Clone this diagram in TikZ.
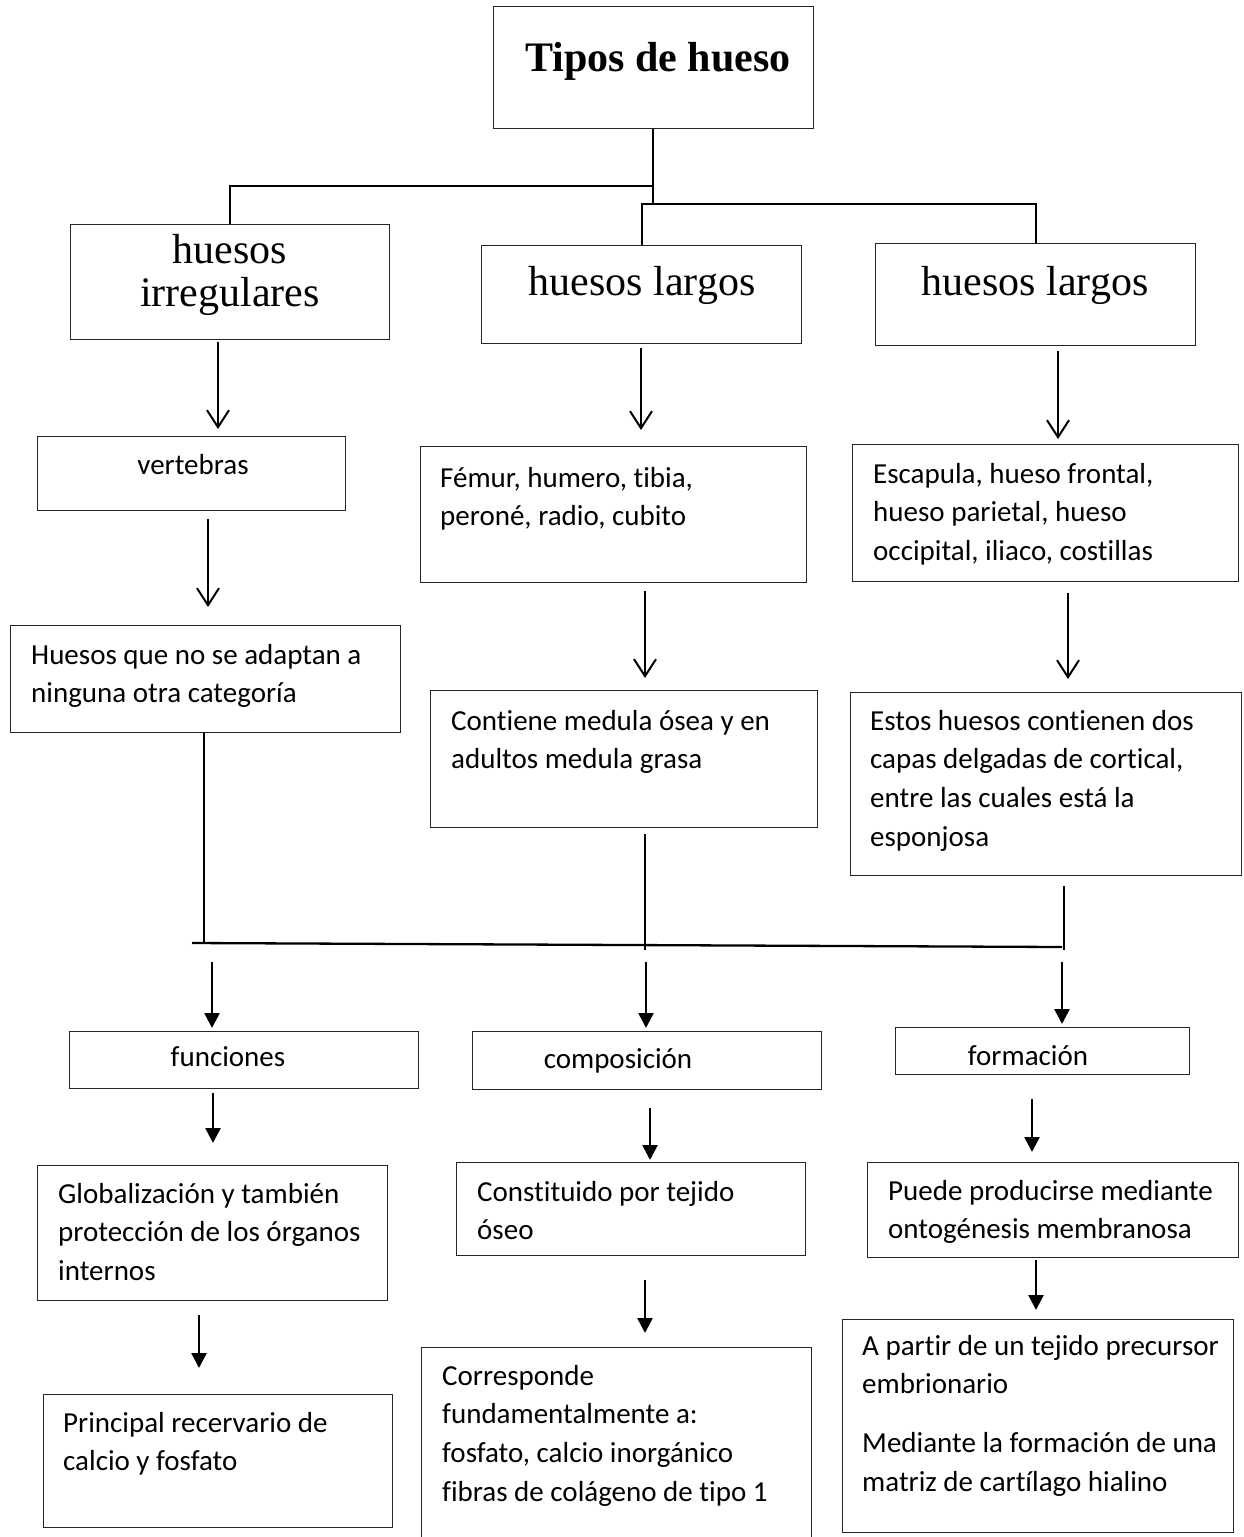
\documentclass[tikz,border=0pt]{standalone}
\usepackage{fontspec}
\setmainfont{Carlito}[Ligatures={NoCommon,NoRare,NoContextual}]
\newfontfamily\serifT{Liberation Serif}
\usetikzlibrary{arrows.meta,calc}
\newcommand\bodyf{\fontsize{29}{38.7}\selectfont}
\newcommand\headf{\serifT\fontsize{42}{41}\selectfont}
\begin{document}
\begin{tikzpicture}[x=1pt,y=-1pt,
  box/.style={draw=black!85, line width=1.3pt, anchor=north west, inner sep=0pt},
  txt/.style={anchor=north west, inner sep=0pt, align=left, font=\bodyf},
  ctxt/.style={anchor=base, inner sep=0pt, font=\bodyf},
  conn/.style={line width=2pt, black},
  openarr/.style={line width=2pt, -{Straight Barb[length=17pt,width=22pt,line width=2pt]}},
  fillarr/.style={line width=2.5pt, -{Triangle[length=15pt,width=15pt]}}
]
\useasboundingbox[fill=white] (0,0) rectangle (1243,1537);

% ---------- boxes ----------
\node[box, minimum width=320pt, minimum height=122pt] (title) at (493,6) {};
\node[box, minimum width=319pt, minimum height=115pt] (b1) at (70,224) {};
\node[box, minimum width=320pt, minimum height=98pt]  (b2) at (481,245) {};
\node[box, minimum width=320pt, minimum height=102pt] (b3) at (875,243) {};
\node[box, minimum width=308pt, minimum height=74pt]  (vert) at (37,436) {};
\node[box, minimum width=386pt, minimum height=136pt] (femur) at (420,446) {};
\node[box, minimum width=386pt, minimum height=137pt] (escap) at (852,444) {};
\node[box, minimum width=391pt, minimum height=183pt] (estos) at (850,692) {};
\node[box, minimum width=390pt, minimum height=107pt] (hque) at (10,625) {};
\node[box, minimum width=387pt, minimum height=137pt] (cont) at (430,690) {};
\node[box, minimum width=349pt, minimum height=57pt]  (func) at (69,1031) {};
\node[box, minimum width=349pt, minimum height=58pt]  (comp) at (472,1031) {};
\node[box, minimum width=294pt, minimum height=47pt]  (form) at (895,1027) {};
\node[box, minimum width=350pt, minimum height=135pt] (glob) at (37,1165) {};
\node[box, minimum width=349pt, minimum height=93pt]  (const) at (456,1162) {};
\node[box, minimum width=371pt, minimum height=95pt]  (puede) at (867,1162) {};
\node[box, minimum width=349pt, minimum height=133pt] (princ) at (43,1394) {};
\node[box, minimum width=390pt, minimum height=200pt] (corr) at (421,1347) {};
\node[box, minimum width=391pt, minimum height=213pt] (apartir) at (842,1319) {};

% ---------- texts ----------
\node[anchor=base, inner sep=0pt, font=\headf\bfseries] (ttitle) at (658,71) {Tipos de hueso};
\node[anchor=north, inner sep=0pt, align=center, font=\headf] (tb1) at (230,234.3) {\strut huesos\\irregulares};
\node[anchor=base, inner sep=0pt, font=\headf] (tb2) at (642,295) {huesos largos};
\node[anchor=base, inner sep=0pt, font=\headf] (tb3) at (1035,295) {huesos largos};
\node[ctxt] (tvert) at (193,474) {vertebras};
\node[txt] (tfemur) at (440,459.9) {\strut Fémur, humero, tibia,\\peroné, radio, cubito};
\node[txt] (tescap) at (873,455.9) {\strut Escapula, hueso frontal,\\hueso parietal, hueso\\occipital, iliaco, costillas};
\node[txt] (thque) at (31,636.9) {\strut Huesos que no se adaptan a\\ninguna otra categoría};
\node[txt] (tcont) at (451,702.9) {\strut Contiene medula ósea y en\\adultos medula grasa};
\node[txt] (testos) at (870,702.9) {\strut Estos huesos contienen dos\\capas delgadas de cortical,\\entre las cuales está la\\esponjosa};
\node[ctxt] (tfunc) at (228,1066) {funciones};
\node[ctxt] (tcomp) at (618,1068) {composición};
\node[ctxt] (tform) at (1028,1065) {formación};
\node[txt] (tglob) at (58,1175.9) {\strut Globalización y también\\protección de los órganos\\internos};
\node[txt] (tconst) at (477,1173.9) {\strut Constituido por tejido\\óseo};
\node[txt] (tpuede) at (888,1172.9) {\strut Puede producirse mediante\\ontogénesis membranosa};
\node[txt] (tprinc) at (63,1404.9) {\strut Principal recervario de\\calcio y fosfato};
\node[txt] (tcorr) at (442,1357.9) {\strut Corresponde\\fundamentalmente a:\\fosfato, calcio inorgánico\\fibras de colágeno de tipo 1};
\node[txt] (tapartir) at (862,1327.9) {\strut A partir de un tejido precursor\\embrionario\\[20pt]Mediante la formación de una\\matriz de cartílago hialino};

% ---------- top tree ----------
\coordinate (jt) at (653,204);
\coordinate (jl) at (653,186);
\draw[conn] (title.south -| jt) -- (jt);
\draw[conn] (jl) -| (b1.north);
\draw[conn] (b2.north) |- (b3.north |- jt) -- (b3.north);

% ---------- open arrows ----------
\coordinate (a1) at (218,0); \coordinate (a2) at (641,0); \coordinate (a3) at (1058,0);
\draw[openarr, shorten <=2pt, shorten >=7pt] (b1.south -| a1) -- (vert.north -| a1);
\draw[openarr, shorten <=4pt, shorten >=16pt] (b2.south -| a2) -- (femur.north -| a2);
\draw[openarr, shorten <=5pt, shorten >=5pt] (b3.south -| a3) -- (escap.north -| a3);
\coordinate (a4) at (208,0); \coordinate (a5) at (645,0); \coordinate (a6) at (1068,0);
\draw[openarr, shorten <=8pt, shorten >=18pt] (vert.south -| a4) -- (hque.north -| a4);
\draw[openarr, shorten <=8pt, shorten >=12pt] (femur.south -| a5) -- (cont.north -| a5);
\draw[openarr, shorten <=11pt, shorten >=13pt] (escap.south -| a6) -- (estos.north -| a6);

% ---------- joining lines ----------
\coordinate (cL) at (204,943);
\coordinate (cM) at (645,950);
\coordinate (cR) at (1064,950);
\coordinate (hA) at (192,943);
\coordinate (hB) at (1062,947);
\draw[conn] (hque.south -| cL) -- (cL);
\draw[conn, shorten <=6pt] (cont.south -| cM) -- (cM);
\draw[conn, shorten <=10pt] (estos.south -| cR) -- (cR);
\draw[line width=2.3pt] (hA) -- (hB);

% ---------- filled arrows ----------
\coordinate (s1) at (212,962); \coordinate (s2) at (646,962); \coordinate (s3) at (1062,962);
\draw[fillarr, shorten >=3pt] (s1) -- (func.north -| s1);
\draw[fillarr, shorten >=3pt] (s2) -- (comp.north -| s2);
\draw[fillarr, shorten >=3pt] (s3) -- (form.north -| s3);
\coordinate (a7) at (213,0); \coordinate (a8) at (650,0); \coordinate (a9) at (1032,0);
\draw[fillarr, shorten <=4pt, shorten >=22pt] (func.south -| a7) -- (glob.north -| a7);
\draw[fillarr, shorten <=18pt, shorten >=2pt] (comp.south -| a8) -- (const.north -| a8);
\draw[fillarr, shorten <=24pt, shorten >=10pt] (form.south -| a9) -- (puede.north -| a9);
\coordinate (a10) at (199,0); \coordinate (a11) at (645,0); \coordinate (a12) at (1036,0);
\draw[fillarr, shorten <=14pt, shorten >=26pt] (glob.south -| a10) -- (princ.north -| a10);
\draw[fillarr, shorten <=24pt, shorten >=14pt] (const.south -| a11) -- (corr.north -| a11);
\draw[fillarr, shorten <=2pt, shorten >=9pt] (puede.south -| a12) -- (apartir.north -| a12);
\end{tikzpicture}
\end{document}
